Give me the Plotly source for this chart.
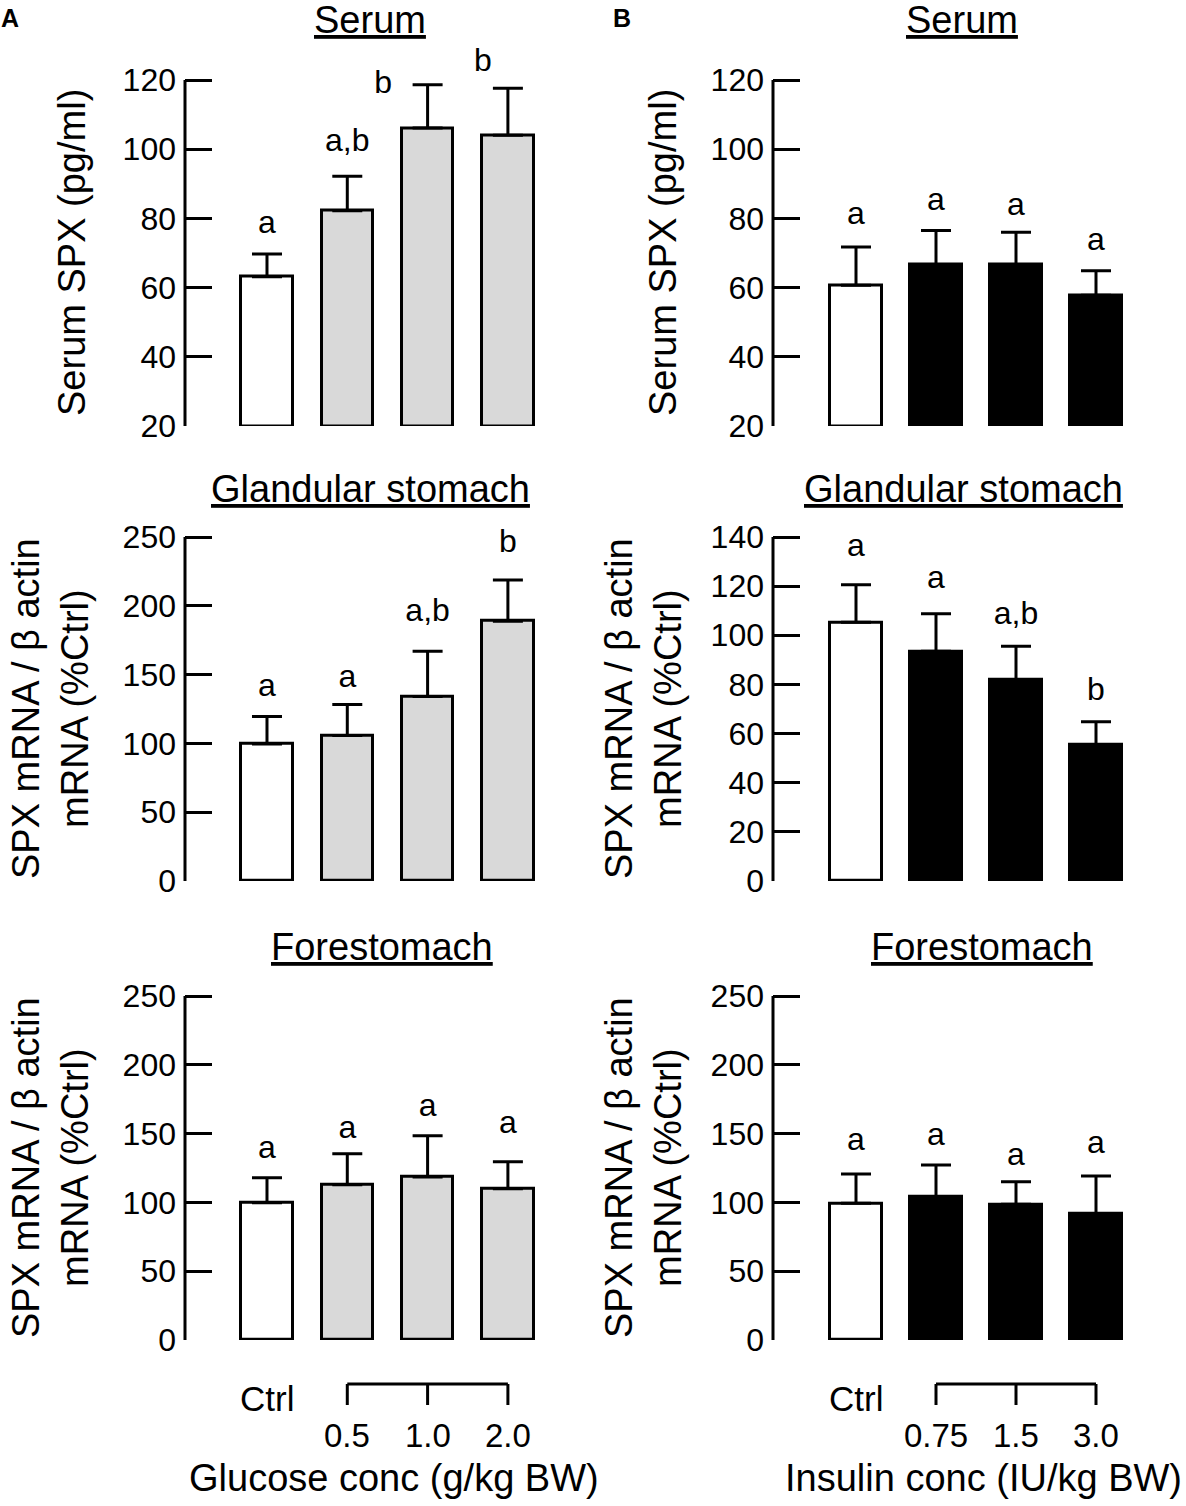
import plotly.graph_objects as go

# groups
glucose_groups = ["Ctrl", "0.5", "1.0", "2.0"]
insulin_groups = ["Ctrl", "0.75", "1.5", "3.0"]

# serum SPX (pg/ml), mean and SEM
serum_glucose = [63.1, 82.2, 106.1, 104.0]
serum_glucose_err = [6.6, 10.0, 12.5, 13.6]
serum_insulin = [60.7, 66.7, 66.7, 57.8]
serum_insulin_err = [11.0, 9.8, 9.3, 7.1]

# glandular stomach SPX mRNA (%Ctrl)
gland_glucose = [99.5, 105.7, 134.0, 188.8]
gland_glucose_err = [20.0, 22.6, 33.0, 30.0]
gland_insulin = [105.3, 93.5, 81.9, 55.6]
gland_insulin_err = [15.3, 15.3, 13.6, 9.2]

# forestomach SPX mRNA (%Ctrl)
fore_glucose = [99.8, 112.9, 118.5, 110.0]
fore_glucose_err = [18.2, 22.5, 30.0, 19.6]
fore_insulin = [99.3, 104.2, 98.6, 92.0]
fore_insulin_err = [21.3, 23.0, 16.4, 27.2]

# significance letters: text, x (group index) and y (axis units)
serum_glucose_sig = ["a", "a,b", "b", "b"]
serum_glucose_sig_x = [0, 1, 1.445, 2.69]
serum_glucose_sig_y = [78.1, 101.9, 118.6, 124.9]
serum_insulin_sig = ["a", "a", "a", "a"]
serum_insulin_sig_y = [80.8, 84.8, 83.3, 73.2]
gland_glucose_sig = ["a", "a", "a,b", "b"]
gland_glucose_sig_y = [140, 147, 195, 245]
gland_insulin_sig = ["a", "a", "a,b", "b"]
gland_insulin_sig_y = [135.6, 122.7, 107.7, 76.8]
fore_glucose_sig = ["a", "a", "a", "a"]
fore_glucose_sig_y = [138, 152.6, 168.6, 156]
fore_insulin_sig = ["a", "a", "a", "a"]
fore_insulin_sig_y = [144.1, 147.7, 133.2, 141.7]
centred = [0, 1, 2, 3]

W, H = 1186, 1506
FONT = "Liberation Sans, Arial, sans-serif"
HEADROOM = 0.12  # room above the axis end for the letters


def px(x):
    return x / W


def py(y):
    return 1 - y / H


glucose_fill = ["white", "#d9d9d9", "#d9d9d9", "#d9d9d9"]
insulin_fill = ["white", "black", "black", "black"]
mrna_title = "SPX mRNA / \u03b2 actin<br>mRNA (%Ctrl)"

panels = [
    # values, errors, fill, letters, letter x, letter y, base, axis span, dtick, title, y title
    (serum_glucose, serum_glucose_err, glucose_fill, serum_glucose_sig, serum_glucose_sig_x, serum_glucose_sig_y,
     20, [20, 120], 20, "Serum", "Serum SPX (pg/ml)"),
    (serum_insulin, serum_insulin_err, insulin_fill, serum_insulin_sig, centred, serum_insulin_sig_y,
     20, [20, 120], 20, "Serum", "Serum SPX (pg/ml)"),
    (gland_glucose, gland_glucose_err, glucose_fill, gland_glucose_sig, centred, gland_glucose_sig_y,
     0, [0, 250], 50, "Glandular stomach", mrna_title),
    (gland_insulin, gland_insulin_err, insulin_fill, gland_insulin_sig, centred, gland_insulin_sig_y,
     0, [0, 140], 20, "Glandular stomach", mrna_title),
    (fore_glucose, fore_glucose_err, glucose_fill, fore_glucose_sig, centred, fore_glucose_sig_y,
     0, [0, 250], 50, "Forestomach", mrna_title),
    (fore_insulin, fore_insulin_err, insulin_fill, fore_insulin_sig, centred, fore_insulin_sig_y,
     0, [0, 250], 50, "Forestomach", mrna_title),
]

# pixel layout: rows (axis top, axis bottom), columns (axis x, right edge, x range)
rows = [(80, 426), (537, 881), (996, 1340)]
cols = [(185, 545, [-1.021, 3.462]), (773, 1133, [-1.0375, 3.4625])]
title_y = [20, 489, 947]
title_x = [[370, 962], [370, 963], [382, 982]]
ytitle_x = [[72, 663], [50, 643], [50, 643]]

fig = go.Figure()
annotations = []
shapes = []

for i, (vals, errs, fill, sig, sig_x, sig_y, base, span, dt, title, ytitle) in enumerate(panels):
    r, c = divmod(i, 2)
    n = "" if i == 0 else str(i + 1)
    xa, ya = "x" + n, "y" + n
    top, bot = rows[r]
    left, right, xr = cols[c]
    lo, hi = span
    yr = [lo, hi + HEADROOM * (hi - lo)]
    dom_top = top - HEADROOM * (bot - top)

    fig.add_trace(go.Bar(
        x=list(range(4)),
        y=[v - base for v in vals],
        base=base,
        width=0.64,
        marker=dict(color=fill, line=dict(color="black", width=3)),
        error_y=dict(type="data", symmetric=False, array=errs, arrayminus=[0] * 4,
                     color="black", thickness=3, width=15),
        cliponaxis=False,
        xaxis=xa, yaxis=ya,
        showlegend=False, hoverinfo="skip",
    ))
    fig.add_trace(go.Scatter(
        x=sig_x, y=sig_y, text=sig, mode="text", textposition="middle center",
        textfont=dict(family=FONT, size=32, color="black"),
        cliponaxis=False, xaxis=xa, yaxis=ya, showlegend=False, hoverinfo="skip",
    ))
    fig.update_layout(**{
        "xaxis" + n: dict(domain=[px(left), px(right)], range=xr, anchor=ya,
                         visible=False, fixedrange=True, automargin=False),
        "yaxis" + n: dict(domain=[py(bot), py(dom_top)], range=yr, anchor=xa,
                         tickvals=list(range(lo, hi + 1, dt)),
                         showline=False,
                         ticks="inside", ticklen=27, tickwidth=3, tickcolor="black",
                         ticklabelstandoff=8, automargin=False,
                         showgrid=False, zeroline=False, fixedrange=True,
                         tickfont=dict(family=FONT, size=32, color="black")),
    })
    # spine of the y axis, only over the labelled span
    shapes.append(dict(type="line", xref=xa + " domain", yref=ya, x0=0, x1=0,
                       y0=lo, y1=hi, line=dict(color="black", width=3)))
    annotations.append(dict(x=px(title_x[r][c]), y=py(title_y[r]), xref="paper", yref="paper",
                            text="<u>" + title + "</u>", showarrow=False,
                            xanchor="center", yanchor="middle",
                            font=dict(family=FONT, size=38, color="black")))
    annotations.append(dict(x=px(ytitle_x[r][c]), y=py((top + bot) / 2), xref="paper", yref="paper",
                            text=ytitle, showarrow=False, textangle=-90,
                            xanchor="center", yanchor="middle",
                            font=dict(family=FONT, size=38, color="black")))

# bottom group labels and brackets
bottom = [("x5", glucose_groups, "Glucose conc (g/kg BW)", 394),
          ("x6", insulin_groups, "Insulin conc (IU/kg BW)", 983)]
for xa, groups, xtitle, cx in bottom:
    annotations.append(dict(x=0, y=py(1398), xref=xa, yref="paper", text=groups[0],
                            xanchor="center", yanchor="middle",
                            showarrow=False, font=dict(family=FONT, size=35, color="black")))
    for k in range(1, 4):
        annotations.append(dict(x=k, y=py(1435), xref=xa, yref="paper", text=groups[k],
                                xanchor="center", yanchor="middle",
                                showarrow=False, font=dict(family=FONT, size=33, color="black")))
        shapes.append(dict(type="line", xref=xa, yref="paper", x0=k, x1=k,
                           y0=py(1384), y1=py(1405), line=dict(color="black", width=3)))
    shapes.append(dict(type="line", xref=xa, yref="paper", x0=1, x1=3,
                       y0=py(1384), y1=py(1384), line=dict(color="black", width=3)))
    annotations.append(dict(x=px(cx), y=py(1478), xref="paper", yref="paper", text=xtitle,
                            xanchor="center", yanchor="middle",
                            showarrow=False, font=dict(family=FONT, size=38, color="black")))

# panel letters
for letter, x in [("A", 10), ("B", 622)]:
    annotations.append(dict(x=px(x), y=py(18), xref="paper", yref="paper", text="<b>" + letter + "</b>",
                            xanchor="center", yanchor="middle",
                            showarrow=False, font=dict(family=FONT, size=25, color="black")))

fig.update_layout(
    width=W, height=H,
    margin=dict(l=0, r=0, t=0, b=0, pad=0),
    paper_bgcolor="white", plot_bgcolor="white",
    annotations=annotations, shapes=shapes,
    bargap=0,
)

# the page's default body margin would push the fixed-size figure off by 8px
fig.write_html("out.html", config={"displayModeBar": False},
               post_script="document.body.style.margin = '0';")
